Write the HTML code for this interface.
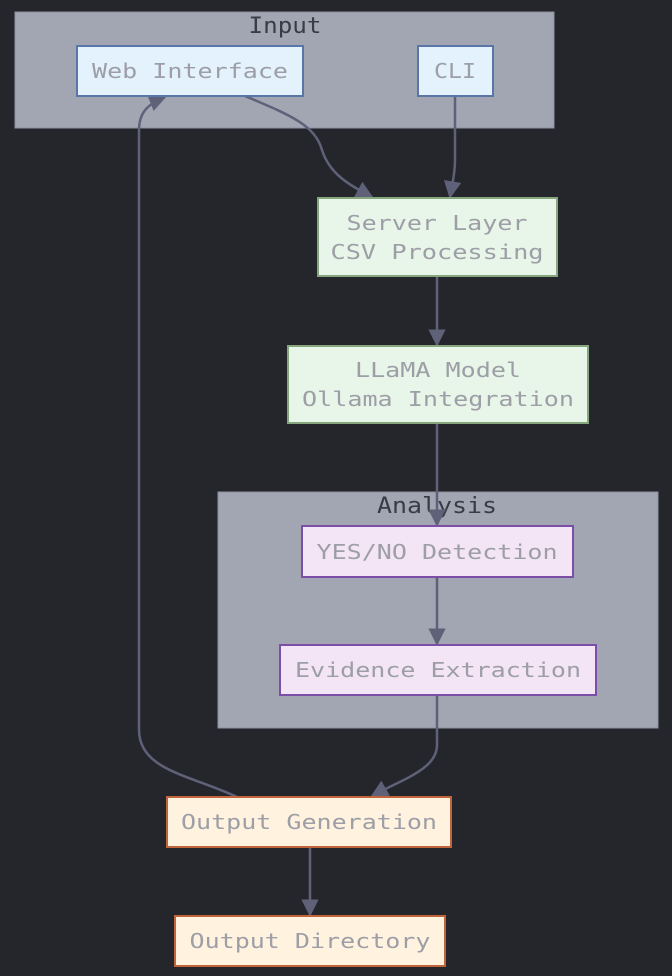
<!DOCTYPE html>
<html><head><meta charset="utf-8"><style>
html,body{margin:0;padding:0;background:#25262b;}
svg{display:block}
text{font-family:"DejaVu Sans Mono","Liberation Mono",monospace;font-size:20px;fill:#9d9ea6;}
.ct{fill:#3a3b45;font-size:22px}
</style></head><body>
<svg width="672" height="976" viewBox="0 0 672 976" xmlns="http://www.w3.org/2000/svg">
<rect width="672" height="976" fill="#25262b"/>
<defs><marker id="a" viewBox="0 0 10 10" refX="9" refY="5" markerWidth="7" markerHeight="7" orient="auto-start-reverse" markerUnits="strokeWidth"><path d="M0,0 L10,5 L0,10 z" fill="#5f6179"/></marker></defs>
<rect x="15" y="12" width="539" height="116" fill="#a2a5b2" stroke="#8d90a0"/>
<text class="ct" x="285" y="33" text-anchor="middle" textLength="73" lengthAdjust="spacingAndGlyphs">Input</text>
<rect x="218" y="492" width="440" height="236" fill="#a2a5b2" stroke="#8d90a0"/>
<text class="ct" x="437" y="513" text-anchor="middle" textLength="120" lengthAdjust="spacingAndGlyphs">Analysis</text>
<g fill="none" stroke="#5f6179" stroke-width="2.5">
<path d="M245,96 C290,115 315,125 322,150 C330,175 350,185 372,197" marker-end="url(#a)"/>
<path d="M455,96 L455,160 C455,175 452,185 450,197" marker-end="url(#a)"/>
<path d="M437,276 L437,345" marker-end="url(#a)"/>
<path d="M437,423 L437,525" marker-end="url(#a)"/>
<path d="M437,577 L437,644" marker-end="url(#a)"/>
<path d="M437,695 L437,745 C437,770 400,780 372,796" marker-end="url(#a)"/>
<path d="M237,797 C190,775 139,770 139,730 L139,130 C139,115 145,105 165,97" marker-end="url(#a)"/>
<path d="M310,847 L310,915" marker-end="url(#a)"/>
</g>
<rect x="77" y="46" width="226" height="50" fill="#e3f2fd" stroke="#5a76a8" stroke-width="2"/>
<text x="190" y="78" text-anchor="middle" textLength="196" lengthAdjust="spacingAndGlyphs">Web Interface</text>
<rect x="418" y="46" width="75" height="50" fill="#e3f2fd" stroke="#5a76a8" stroke-width="2"/>
<text x="455" y="78" text-anchor="middle" textLength="42" lengthAdjust="spacingAndGlyphs">CLI</text>
<rect x="318" y="198" width="239" height="78" fill="#e8f5e9" stroke="#86a67e" stroke-width="2"/>
<text x="437" y="230" text-anchor="middle" textLength="181" lengthAdjust="spacingAndGlyphs">Server Layer</text>
<text x="437" y="259" text-anchor="middle" textLength="213" lengthAdjust="spacingAndGlyphs">CSV Processing</text>
<rect x="288" y="346" width="300" height="77" fill="#e8f5e9" stroke="#86a67e" stroke-width="2"/>
<text x="438" y="377" text-anchor="middle" textLength="166" lengthAdjust="spacingAndGlyphs">LLaMA Model</text>
<text x="438" y="406" text-anchor="middle" textLength="272" lengthAdjust="spacingAndGlyphs">Ollama Integration</text>
<rect x="302" y="526" width="271" height="51" fill="#f3e5f5" stroke="#7b4fa8" stroke-width="2"/>
<text x="437" y="559" text-anchor="middle" textLength="241" lengthAdjust="spacingAndGlyphs">YES/NO Detection</text>
<rect x="280" y="645" width="316" height="50" fill="#f3e5f5" stroke="#7b4fa8" stroke-width="2"/>
<text x="438" y="677" text-anchor="middle" textLength="286" lengthAdjust="spacingAndGlyphs">Evidence Extraction</text>
<rect x="167" y="797" width="284" height="50" fill="#fff3e0" stroke="#c0653a" stroke-width="2"/>
<text x="309" y="829" text-anchor="middle" textLength="256" lengthAdjust="spacingAndGlyphs">Output Generation</text>
<rect x="175" y="916" width="270" height="50" fill="#fff3e0" stroke="#c0653a" stroke-width="2"/>
<text x="310" y="948" text-anchor="middle" textLength="241" lengthAdjust="spacingAndGlyphs">Output Directory</text>
</svg>
</body></html>
